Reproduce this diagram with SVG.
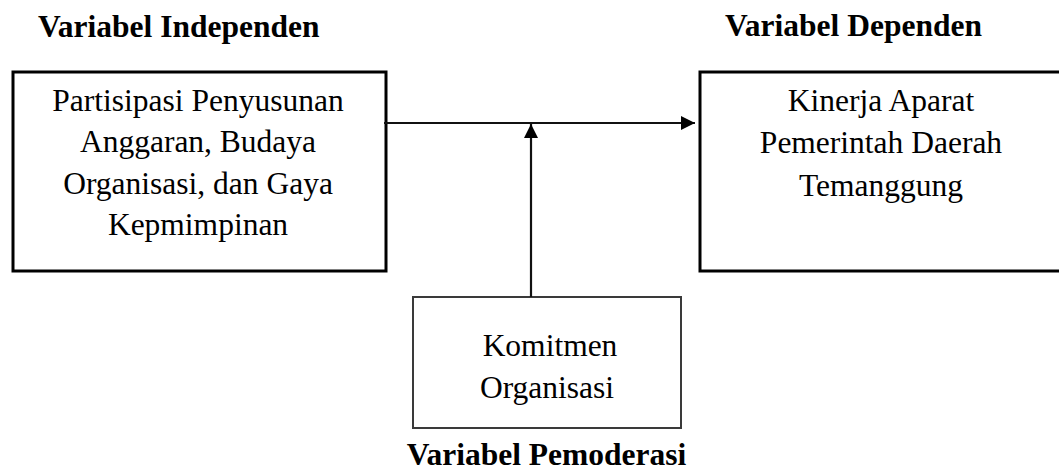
<svg xmlns="http://www.w3.org/2000/svg" width="1059" height="471" viewBox="0 0 1059 471">
<style>
.box{fill:#fff;stroke:#000;stroke-width:3}
.box2{fill:#fff;stroke:#3a3a3a;stroke-width:2}
.t{font-family:"Liberation Serif","Times New Roman",serif;font-size:31.5px;fill:#000;text-anchor:middle}
.h{font-family:"Liberation Serif","Times New Roman",serif;font-size:31.5px;font-weight:bold;fill:#000}
.c{stroke:#111;stroke-width:2.2;fill:none}
</style>
<defs>
<marker id="ah" markerUnits="userSpaceOnUse" markerWidth="16" markerHeight="16" refX="14" refY="7" orient="auto">
<path d="M0,0 L14,7 L0,14 Z" fill="#000"/>
</marker>
</defs>
<text class="h" x="38" y="37">Variabel Independen</text>
<text class="h" x="725" y="36">Variabel Dependen</text>
<text class="h" x="546.5" y="465" text-anchor="middle">Variabel Pemoderasi</text>
<g id="independen">
<rect class="box" x="13" y="72" width="373" height="199"/>
<text class="t" x="198" y="111">Partisipasi Penyusunan</text>
<text class="t" x="198" y="152">Anggaran, Budaya</text>
<text class="t" x="198" y="194">Organisasi, dan Gaya</text>
<text class="t" x="198" y="235">Kepmimpinan</text>
</g>
<g id="dependen">
<rect class="box" x="700" y="72" width="370" height="199"/>
<text class="t" x="881" y="111">Kinerja Aparat</text>
<text class="t" x="881" y="153">Pemerintah Daerah</text>
<text class="t" x="881" y="196">Temanggung</text>
</g>
<g id="moderasi">
<rect class="box2" x="413" y="297" width="268" height="131"/>
<text class="t" x="550" y="356">Komitmen</text>
<text class="t" x="547" y="398">Organisasi</text>
</g>
<g id="connectors">
<line class="c" x1="384" y1="123" x2="695" y2="123" marker-end="url(#ah)"/>
<line class="c" x1="531" y1="297" x2="531" y2="124" marker-end="url(#ah)"/>
</g>
</svg>
